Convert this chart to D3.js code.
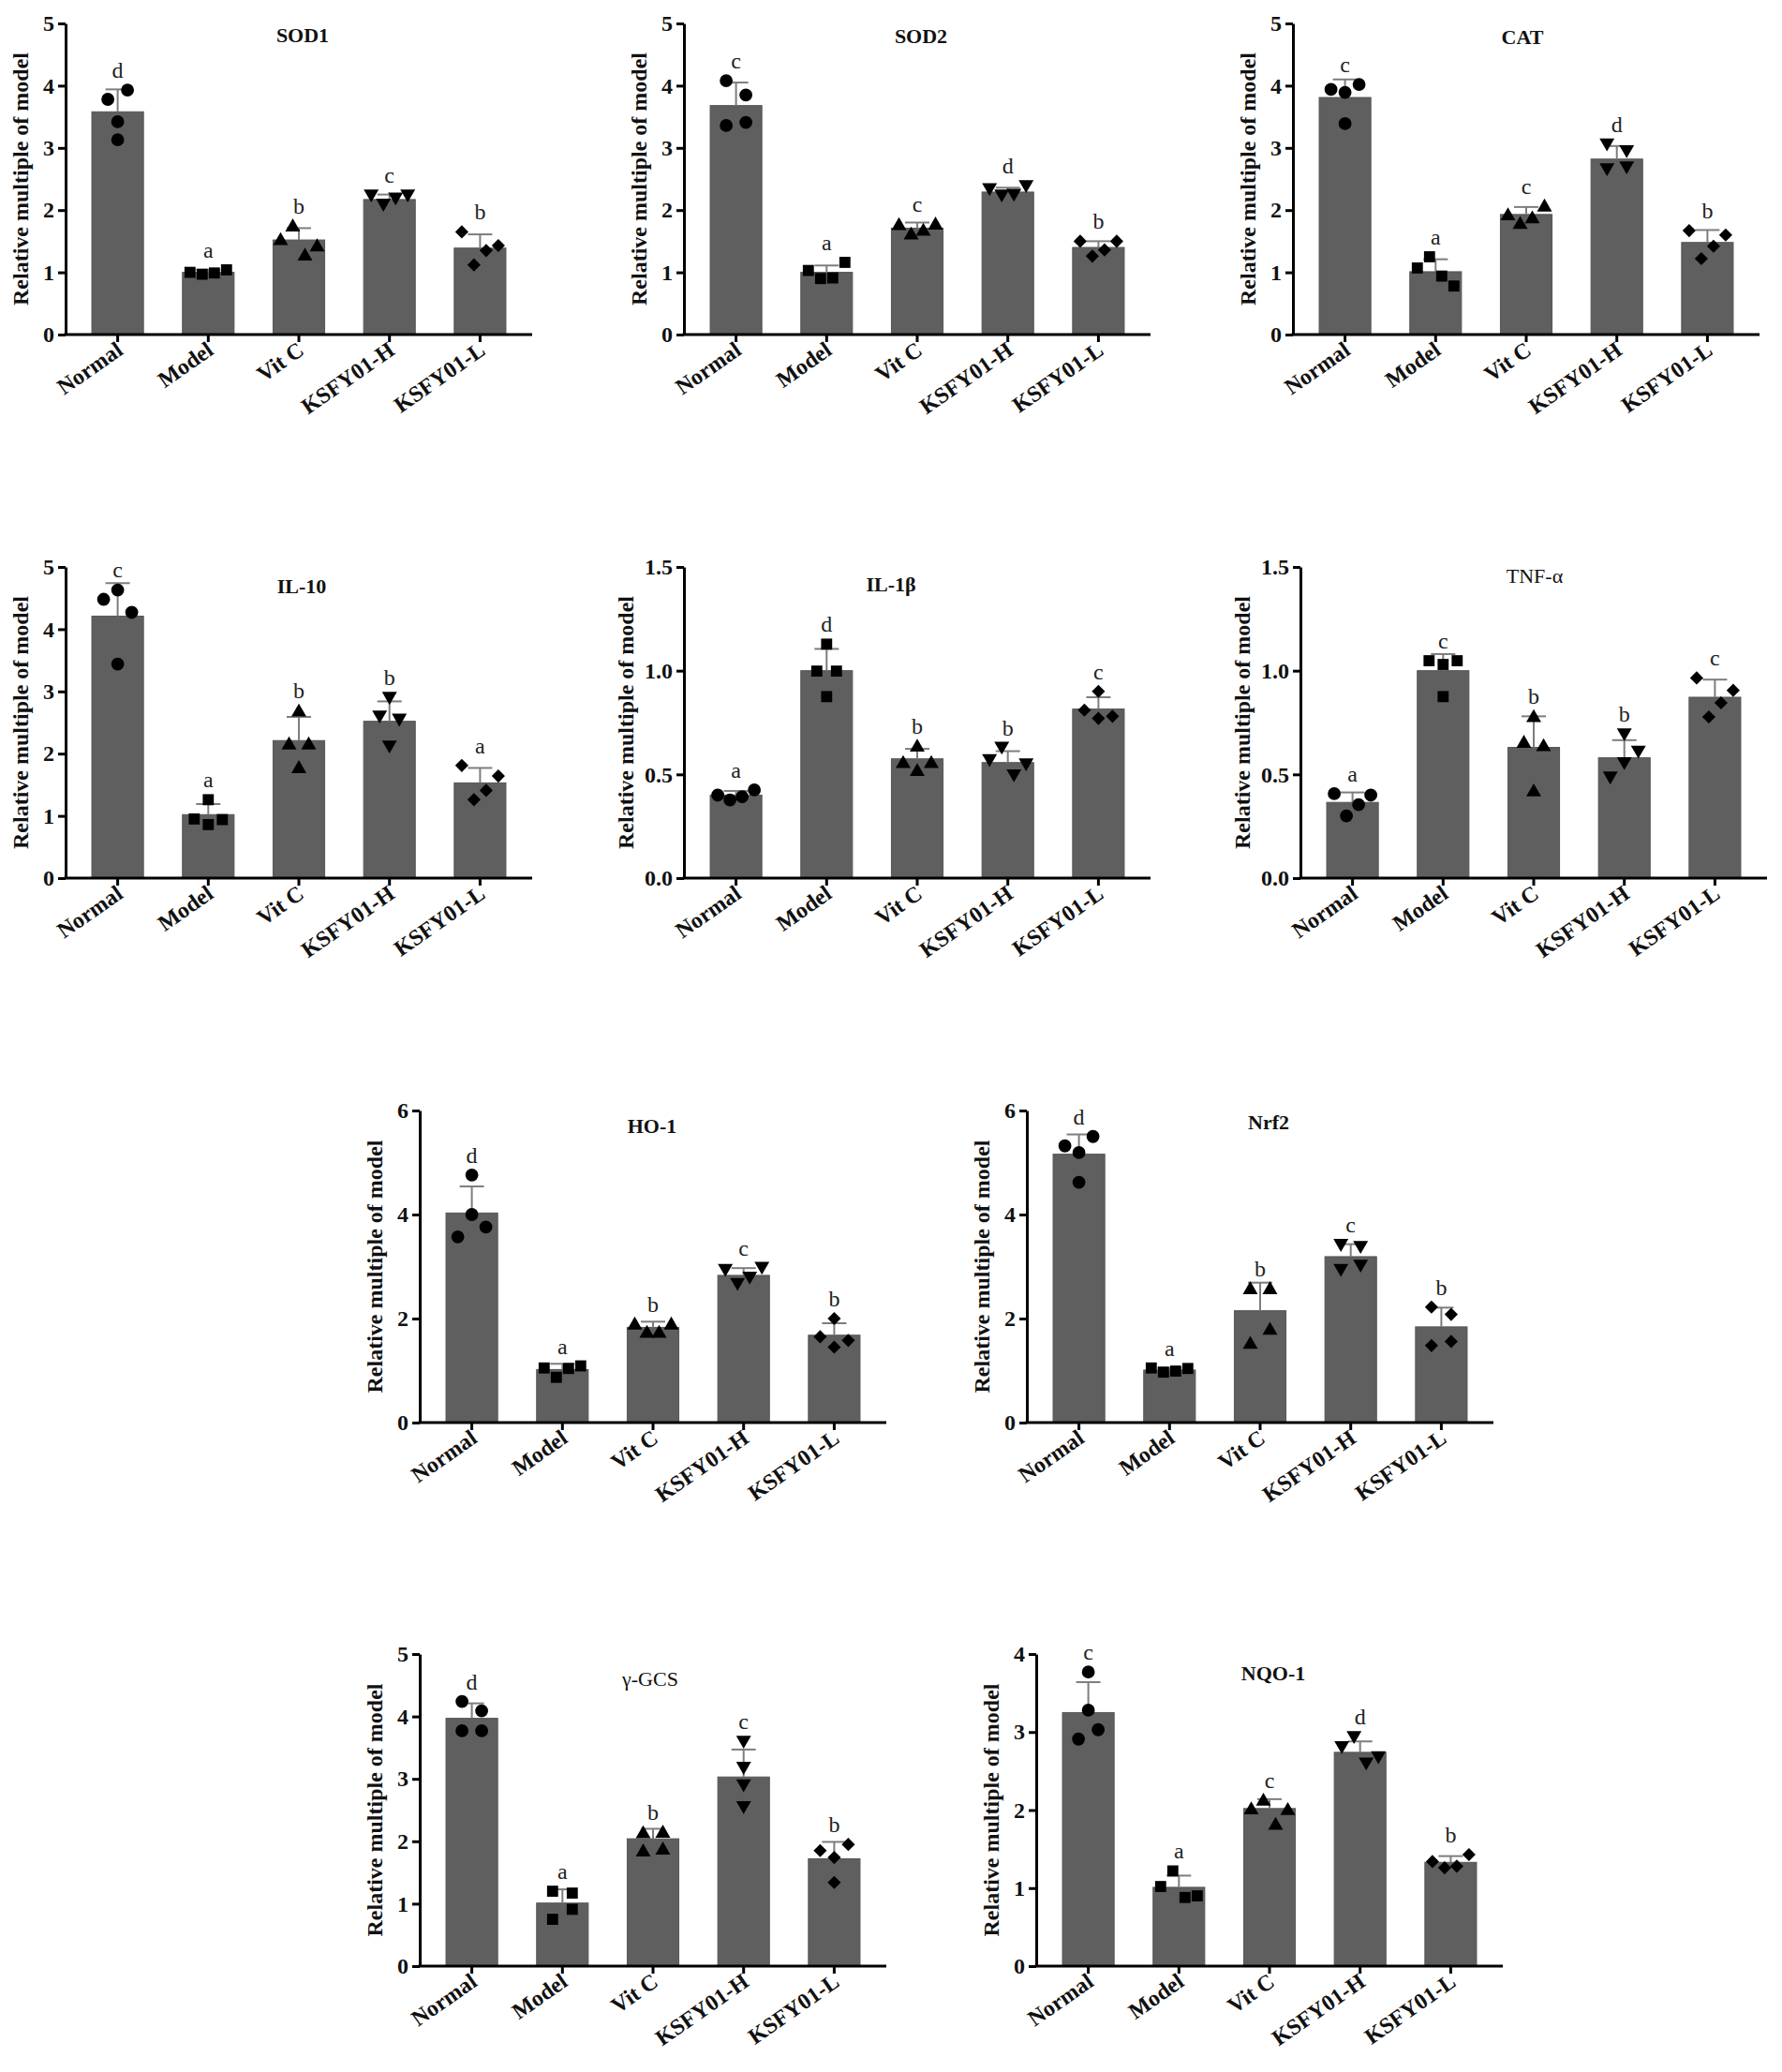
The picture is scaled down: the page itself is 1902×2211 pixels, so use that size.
<!DOCTYPE html>
<html><head><meta charset="utf-8">
<script src="https://cdn.jsdelivr.net/npm/d3@7"></script>
<style>
body{margin:0;background:#fff}
svg{display:block}
text{font-family:"Liberation Serif","Times New Roman",serif}
</style>
</head><body>
<svg id="chart" width="1902" height="2211"></svg>
<script>
// ---------------- DATA ----------------
const groups = ["Normal", "Model", "Vit C", "KSFY01-H", "KSFY01-L"];
const panelTitles = ["SOD1", "SOD2", "CAT", "IL-10", "IL-1β", "TNF-α", "HO-1", "Nrf2", "γ-GCS", "NQO-1"];
const yMax = [5, 5, 5, 5, 1.5, 1.5, 6, 6, 5, 4];
const yStep = [1, 1, 1, 1, 0.5, 0.5, 2, 2, 1, 1];
const yLabel = "Relative multiple of model";

const sod1Means = [3.58, 1.00, 1.52, 2.17, 1.39];
const sod1SD = [0.36, 0.04, 0.19, 0.08, 0.22];
const sod1Points = [[3.78, 3.93, 3.42, 3.13], [1.00, 0.97, 0.99, 1.04], [1.53, 1.75, 1.28, 1.43], [2.24, 2.09, 2.19, 2.24], [1.65, 1.12, 1.35, 1.43]];
const sod1Letters = ["d", "a", "b", "c", "b"];

const sod2Means = [3.68, 1.00, 1.71, 2.29, 1.40];
const sod2SD = [0.37, 0.11, 0.09, 0.07, 0.10];
const sod2Points = [[4.08, 3.85, 3.36, 3.41], [1.03, 0.90, 0.91, 1.16], [1.77, 1.62, 1.68, 1.78], [2.34, 2.24, 2.25, 2.39], [1.50, 1.26, 1.36, 1.50]];
const sod2Letters = ["c", "a", "c", "d", "b"];

const catMeans = [3.81, 1.01, 1.93, 2.82, 1.48];
const catSD = [0.29, 0.20, 0.12, 0.21, 0.20];
const catPoints = [[3.94, 3.89, 4.02, 3.39], [1.07, 1.25, 0.94, 0.78], [1.93, 1.79, 1.88, 2.07], [3.06, 2.95, 2.66, 2.69], [1.67, 1.22, 1.42, 1.60]];
const catLetters = ["c", "a", "c", "d", "b"];

const il10Means = [4.21, 1.02, 2.21, 2.52, 1.53];
const il10SD = [0.53, 0.17, 0.38, 0.32, 0.24];
const il10Points = [[4.48, 4.63, 4.27, 3.44], [0.95, 1.26, 0.86, 0.94], [2.69, 2.16, 2.16, 1.78], [2.90, 2.60, 2.55, 2.12], [1.81, 1.26, 1.41, 1.64]];
const il10Letters = ["c", "a", "b", "b", "a"];

const il1bMeans = [0.40, 1.00, 0.575, 0.557, 0.815];
const il1bSD = [0.02, 0.105, 0.048, 0.055, 0.057];
const il1bPoints = [[0.40, 0.377, 0.392, 0.425], [0.998, 1.128, 0.875, 0.998], [0.558, 0.637, 0.52, 0.558], [0.57, 0.63, 0.497, 0.55], [0.81, 0.90, 0.77, 0.78]];
const il1bLetters = ["a", "d", "b", "b", "c"];

const tnfMeans = [0.365, 1.00, 0.63, 0.58, 0.872];
const tnfSD = [0.048, 0.08, 0.15, 0.085, 0.085];
const tnfPoints = [[0.407, 0.30, 0.354, 0.40], [1.048, 1.03, 1.048, 0.875], [0.656, 0.78, 0.422, 0.64], [0.486, 0.694, 0.555, 0.611], [0.965, 0.777, 0.845, 0.905]];
const tnfLetters = ["a", "c", "b", "b", "c"];

const ho1Means = [4.03, 1.02, 1.83, 2.83, 1.68];
const ho1SD = [0.51, 0.11, 0.11, 0.14, 0.23];
const ho1Points = [[4.76, 3.57, 4.00, 3.76], [1.05, 0.87, 1.04, 1.09], [1.90, 1.74, 1.74, 1.90], [2.94, 2.67, 2.79, 2.98], [1.65, 2.00, 1.45, 1.58]];
const ho1Letters = ["d", "a", "b", "c", "b"];

const nrf2Means = [5.16, 1.01, 2.15, 3.19, 1.84];
const nrf2SD = [0.38, 0.04, 0.54, 0.24, 0.37];
const nrf2Points = [[5.32, 5.19, 5.50, 4.62], [1.05, 0.97, 0.99, 1.04], [2.58, 1.53, 1.80, 2.58], [3.42, 2.94, 3.02, 3.38], [2.22, 1.48, 2.08, 1.56]];
const nrf2Letters = ["d", "a", "b", "c", "b"];

const gcsMeans = [3.97, 1.01, 2.04, 3.03, 1.72];
const gcsSD = [0.24, 0.22, 0.16, 0.44, 0.27];
const gcsPoints = [[4.24, 4.09, 3.77, 3.77], [1.20, 0.75, 0.91, 1.17], [2.14, 2.15, 1.85, 1.88], [3.60, 3.18, 2.90, 2.55], [1.85, 1.74, 1.34, 1.95]];
const gcsLetters = ["d", "a", "b", "c", "b"];

const nqoMeans = [3.25, 1.01, 2.02, 2.74, 1.33];
const nqoSD = [0.39, 0.15, 0.12, 0.14, 0.08];
const nqoPoints = [[3.77, 3.28, 2.91, 3.03], [1.02, 1.22, 0.88, 0.90], [2.02, 2.13, 1.82, 2.01], [2.81, 2.94, 2.60, 2.68], [1.34, 1.26, 1.28, 1.43]];
const nqoLetters = ["c", "a", "c", "d", "b"];

const allMeans = [sod1Means, sod2Means, catMeans, il10Means, il1bMeans, tnfMeans, ho1Means, nrf2Means, gcsMeans, nqoMeans];
const allSD = [sod1SD, sod2SD, catSD, il10SD, il1bSD, tnfSD, ho1SD, nrf2SD, gcsSD, nqoSD];
const allPoints = [sod1Points, sod2Points, catPoints, il10Points, il1bPoints, tnfPoints, ho1Points, nrf2Points, gcsPoints, nqoPoints];
const allLetters = [sod1Letters, sod2Letters, catLetters, il10Letters, il1bLetters, tnfLetters, ho1Letters, nrf2Letters, gcsLetters, nqoLetters];

// ---------------- LAYOUT (positions / styles) ----------------
const layout = [
  {ax: 70,   top: 25,   zero: 357,  tdy: 20, tdx: 4,   tw: "bold"},
  {ax: 730,  top: 25,   zero: 357,  tdy: 21, tdx: 4,   tw: "bold"},
  {ax: 1380, top: 25,   zero: 357,  tdy: 22, tdx: -4,  tw: "bold"},
  {ax: 70,   top: 605,  zero: 937,  tdy: 28, tdx: 3,   tw: "bold"},
  {ax: 730,  top: 605,  zero: 937,  tdy: 26, tdx: -28, tw: "bold"},
  {ax: 1388, top: 605,  zero: 937,  tdy: 17, tdx: 1,   tw: "normal"},
  {ax: 448,  top: 1185, zero: 1518, tdy: 24, tdx: -1,  tw: "bold"},
  {ax: 1096, top: 1185, zero: 1518, tdy: 20, tdx: 9,   tw: "bold"},
  {ax: 448,  top: 1765, zero: 2098, tdy: 34, tdx: -3,  tw: "normal"},
  {ax: 1106, top: 1765, zero: 2098, tdy: 28, tdx: 4,   tw: "bold"}
];
const plotW = 498;
const barFill = "#5f5f5f";
const errColor = "#7d7d7d";
const fontStack = '"Liberation Serif","Times New Roman",serif';

const symbolTypes = [d3.symbolCircle, d3.symbolSquare, d3.symbolTriangle, d3.symbolTriangle, d3.symbolSquare];
const symbolSizes = [150, 140, 110, 110, 100];
const symbolRot = [0, 0, 0, 180, 45];

const svg = d3.select("#chart");

// spread points horizontally: chain points whose pixel distance is small into rows, centre each row
function spread(vals, y) {
  const idx = vals.map((v, i) => i).sort((a, b) => vals[b] - vals[a]);
  const rows = [];
  let cur = [idx[0]];
  for (let k = 1; k < idx.length; k++) {
    const dy = Math.abs(y(vals[idx[k]]) - y(vals[idx[k - 1]]));
    if (dy < 17) cur.push(idx[k]); else { rows.push(cur); cur = [idx[k]]; }
  }
  rows.push(cur);
  const off = new Array(vals.length).fill(0);
  rows.forEach(r => {
    r.sort((a, b) => a - b);
    const n = r.length;
    const s = n === 2 ? 21 : n === 3 ? 15 : 13;
    r.forEach((pi, j) => { off[pi] = (j - (n - 1) / 2) * s; });
  });
  return off;
}

panelTitles.forEach((title, i) => {
  const L = layout[i];
  const means = allMeans[i], sds = allSD[i], pts = allPoints[i], letters = allLetters[i];
  const g = svg.append("g");
  const y = d3.scaleLinear().domain([0, yMax[i]]).range([L.zero, L.top]);
  const x = d3.scaleBand().domain(groups).range([L.ax, L.ax + plotW]).paddingInner(0.43).paddingOuter(0.29);
  const decimals = yStep[i] < 1;
  const fmt = decimals ? d3.format(".1f") : d3.format("d");

  // bars
  g.selectAll("rect.bar").data(groups).join("rect")
    .attr("class", "bar")
    .attr("x", d => x(d)).attr("width", x.bandwidth())
    .attr("y", (d, j) => y(means[j])).attr("height", (d, j) => y(0) - y(means[j]))
    .attr("fill", barFill).attr("stroke", "#555").attr("stroke-width", 1);

  // error bars (upper)
  const eb = g.selectAll("g.err").data(groups).join("g").attr("class", "err");
  eb.append("line")
    .attr("x1", d => x(d) + x.bandwidth() / 2).attr("x2", d => x(d) + x.bandwidth() / 2)
    .attr("y1", (d, j) => y(means[j])).attr("y2", (d, j) => y(means[j] + sds[j]))
    .attr("stroke", errColor).attr("stroke-width", 2);
  eb.append("line")
    .attr("x1", d => x(d) + x.bandwidth() / 2 - 13).attr("x2", d => x(d) + x.bandwidth() / 2 + 13)
    .attr("y1", (d, j) => y(means[j] + sds[j])).attr("y2", (d, j) => y(means[j] + sds[j]))
    .attr("stroke", errColor).attr("stroke-width", 2);

  // points
  groups.forEach((gr, j) => {
    const off = spread(pts[j], y);
    const cx = x(gr) + x.bandwidth() / 2;
    const sym = d3.symbol().type(symbolTypes[j]).size(symbolSizes[j]);
    g.selectAll(null).data(pts[j]).join("path")
      .attr("d", sym)
      .attr("transform", (v, k) => `translate(${cx + off[k]},${y(v) + (j === 2 ? 1.5 : j === 3 ? -1.5 : 0)}) rotate(${symbolRot[j]})`)
      .attr("fill", "#000");
    // significance letter
    const topY = Math.min(y(means[j] + sds[j]), y(d3.max(pts[j])) - 7);
    g.append("text").attr("x", cx).attr("y", topY - 6)
      .attr("text-anchor", "middle").attr("font-size", 24).attr("fill", "#222")
      .text(letters[j]);
  });

  // y axis
  const yAxis = d3.axisLeft(y).tickValues(d3.range(0, yMax[i] + 1e-9, yStep[i]))
    .tickFormat(fmt).tickSize(8).tickSizeOuter(0).tickPadding(4);
  const ya = g.append("g").attr("transform", `translate(${L.ax},0)`).call(yAxis);
  ya.select(".domain").attr("stroke", "#000").attr("stroke-width", 3);
  ya.selectAll(".tick line").attr("stroke", "#000").attr("stroke-width", 3);
  ya.selectAll(".tick text").attr("font-size", 24).attr("font-weight", "bold").attr("fill", "#111")
    .style("font-family", fontStack);

  // x axis
  const xAxis = d3.axisBottom(x).tickSize(8).tickSizeOuter(0);
  const xa = g.append("g").attr("transform", `translate(0,${L.zero})`).call(xAxis);
  xa.select(".domain").attr("stroke", "#000").attr("stroke-width", 3)
    .attr("d", `M${L.ax - 1.5},0H${L.ax + plotW}`);
  xa.selectAll(".tick line").attr("stroke", "#000").attr("stroke-width", 3);
  xa.selectAll(".tick text")
    .attr("x", 0).attr("y", 0).attr("dy", null)
    .attr("transform", "translate(7,20) rotate(-35)")
    .style("text-anchor", "end")
    .attr("font-size", 24).attr("font-weight", "bold").attr("fill", "#111")
    .style("font-family", fontStack);

  // y title
  g.append("text")
    .attr("transform", `translate(${L.ax - (decimals ? 62 : 48)},${(L.top + L.zero) / 2}) rotate(-90)`)
    .attr("text-anchor", "middle").attr("dy", "0.35em")
    .attr("font-size", 24).attr("font-weight", "bold").attr("fill", "#111")
    .text(yLabel);

  // panel title
  g.append("text")
    .attr("x", L.ax + plotW / 2 + L.tdx).attr("y", L.top + L.tdy)
    .attr("text-anchor", "middle").attr("font-size", 22).attr("font-weight", L.tw).attr("fill", "#111")
    .text(title);
});
</script>
</body></html>
